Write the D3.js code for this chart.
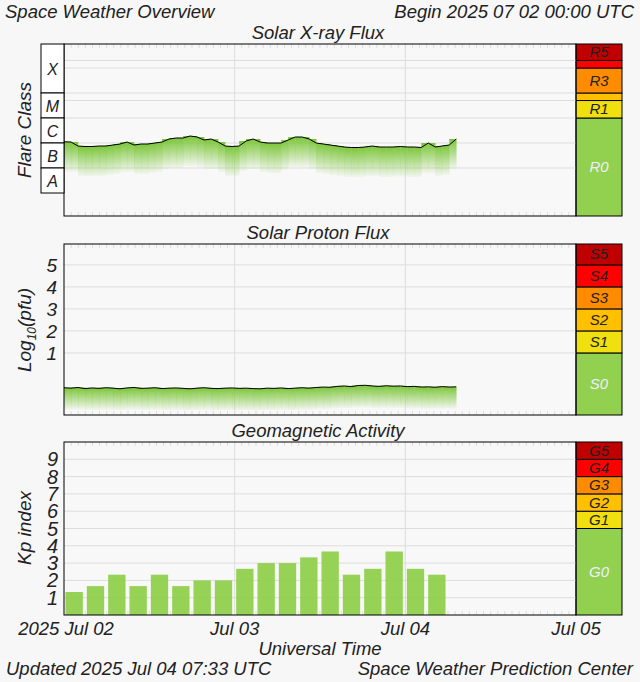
<!DOCTYPE html>
<html><head><meta charset="utf-8">
<script src="https://cdn.jsdelivr.net/npm/d3@7"></script>
<style>body{margin:0;background:#f7f7f7}svg{font-family:"Liberation Sans",Arial,sans-serif;font-style:italic}</style>
</head><body><svg id="c" width="640" height="682"></svg>
<script>
// ---- data ----
const startTime = new Date(Date.UTC(2025,6,2,0,0));
const endTime = new Date(Date.UTC(2025,6,5,0,0));
const dayTicks = ["2025 Jul 02","Jul 03","Jul 04","Jul 05"];
// hourly log10 X-ray flux (W/m^2)
const xrayLog = [-5.95,-5.96,-6.12,-6.14,-6.14,-6.12,-6.12,-6.08,-6.04,-5.96,-6.08,-6.04,-6.04,-6.00,-5.96,-5.84,-5.80,-5.80,-5.72,-5.76,-5.88,-5.84,-5.96,-6.12,-6.14,-6.12,-5.92,-5.84,-5.96,-6.00,-6.00,-6.00,-5.88,-5.76,-5.76,-5.84,-6.00,-6.04,-6.08,-6.12,-6.16,-6.18,-6.18,-6.16,-6.12,-6.16,-6.16,-6.16,-6.14,-6.16,-6.16,-6.18,-6.00,-6.16,-6.12,-6.08,-5.84];
// hourly log10 proton flux (pfu)
const protonLog = [-0.58,-0.60,-0.57,-0.62,-0.59,-0.61,-0.58,-0.60,-0.63,-0.59,-0.57,-0.61,-0.60,-0.58,-0.62,-0.60,-0.59,-0.61,-0.63,-0.60,-0.58,-0.61,-0.62,-0.60,-0.59,-0.61,-0.60,-0.62,-0.63,-0.60,-0.61,-0.59,-0.62,-0.60,-0.58,-0.60,-0.57,-0.55,-0.56,-0.52,-0.50,-0.53,-0.48,-0.47,-0.50,-0.52,-0.49,-0.51,-0.50,-0.53,-0.52,-0.55,-0.54,-0.56,-0.53,-0.55,-0.54];
// 3-hourly Kp
const kpValues = [1.33,1.67,2.33,1.67,2.33,1.67,2,2,2.67,3,3,3.33,3.67,2.33,2.67,3.67,2.67,2.33];
const flareClasses = [["X",-4,-2.04],["M",-5,-4],["C",-6,-5],["B",-7,-6],["A",-8,-7]];
const rScale = [["R0",-8.92,-5,"#92d050"],["R1",-5,-4.301,"#f0e010"],["",-4.301,-4,"#ffc000"],["R3",-4,-3,"#ff8c00"],["",-3,-2.699,"#ff0000"],["R5",-2.699,-2.04,"#c00000"]];
const sScale = [["S0",-1.82,1,"#92d050"],["S1",1,2,"#f0e010"],["S2",2,3,"#ffc000"],["S3",3,4,"#ff8c00"],["S4",4,5,"#ff0000"],["S5",5,5.95,"#c00000"]];
const gScale = [["G0",0,5,"#92d050"],["G1",5,6,"#f0e010"],["G2",6,7,"#ffc000"],["G3",7,8,"#ff8c00"],["G4",8,9,"#ff0000"],["G5",9,10,"#c00000"]];
const protonTicks = [1,2,3,4,5];
const kpTicks = [1,2,3,4,5,6,7,8,9];

// ---- drawing ----
const svg = d3.select("#c");
const X0=64, X1=576, BX1=622;
const x = d3.scaleTime().domain([startTime,endTime]).range([X0,X1]);
const hour = i => new Date(startTime.getTime()+i*3600e3*0.985);
const hr = i => new Date(startTime.getTime()+i*3600e3);
const txt=(t,xx,yy,a,s)=>svg.append("text").attr("x",xx).attr("y",yy).attr("text-anchor",a||"start").attr("font-size",s||18).attr("fill","#222").text(t);

const defs=svg.append("defs");
const gr=defs.append("linearGradient").attr("id","fade").attr("x1",0).attr("x2",0).attr("y1",0).attr("y2",1);
gr.append("stop").attr("offset",0).attr("stop-color","#7cc63a").attr("stop-opacity",1);
gr.append("stop").attr("offset",1).attr("stop-color","#7cc63a").attr("stop-opacity",0.05);

function panel(top,bot,domain,title,bands){
  const y=d3.scaleLinear().domain(domain).range([bot,top]);
  svg.append("rect").attr("x",X0).attr("y",top).attr("width",X1-X0).attr("height",bot-top).attr("fill","#f8f8f8");
  txt(title,318,top-5,"middle",18.5);
  [1,2].forEach(d=>{const xx=x(new Date(startTime.getTime()+d*86400e3));
    svg.append("line").attr("x1",xx).attr("x2",xx).attr("y1",top).attr("y2",bot).attr("stroke","#ddd");});
  d3.range(1,72).forEach(i=>{const xx=x(hr(i));
    svg.append("line").attr("x1",xx).attr("x2",xx).attr("y1",top).attr("y2",top+4).attr("stroke","#ddd");
    svg.append("line").attr("x1",xx).attr("x2",xx).attr("y1",bot).attr("y2",bot-4).attr("stroke","#ddd");});
  bands.forEach(b=>{
    svg.append("rect").attr("x",X1).attr("y",y(b[2])).attr("width",BX1-X1).attr("height",y(b[1])-y(b[2])).attr("fill",b[3]).attr("stroke","#000").attr("stroke-width",1);
    if(b[0]) svg.append("text").attr("x",(X1+BX1)/2).attr("y",(y(b[1])+y(b[2]))/2+5).attr("text-anchor","middle").attr("font-size",15)
      .attr("fill",b[0].endsWith("0")?"#eef":"#222").text(b[0]);
  });
  return y;
}
function hgrid(y,vals){vals.forEach(v=>svg.append("line").attr("x1",X0).attr("x2",X1).attr("y1",y(v)).attr("y2",y(v)).attr("stroke","#ddd"));}
function frame(top,bot){svg.append("rect").attr("x",X0).attr("y",top).attr("width",X1-X0).attr("height",bot-top).attr("fill","none").attr("stroke","#000");}
function series(y,vals,depth){
  vals.forEach((v,i)=>{ if(i==vals.length-1) return;
    const xa=x(hour(i)), xb=x(hour(i+1));
    svg.append("rect").attr("x",xa).attr("y",Math.min(y(v),y(vals[i+1]))).attr("width",xb-xa+0.3).attr("height",depth).attr("fill","url(#fade)");
  });
  const line=d3.line().x((d,i)=>x(hour(i))).y(d=>y(d));
  svg.append("path").datum(vals).attr("d",line).attr("fill","none").attr("stroke","#000").attr("stroke-width",1);
}

// Panel 1: X-ray
const y1=panel(44,216,[-8.92,-2.04],"Solar X-ray Flux",rScale);
hgrid(y1,[-7,-6,-5,-4.301,-4,-3,-2.699]);
series(y1,xrayLog,30);
frame(44,216);
flareClasses.forEach(c=>{
  svg.append("rect").attr("x",41).attr("y",y1(c[2])).attr("width",X0-41).attr("height",y1(c[1])-y1(c[2])).attr("fill","#fff").attr("stroke","#000");
  txt(c[0],52.5,(y1(c[1])+y1(c[2]))/2+6,"middle",16);
});
svg.append("text").attr("transform","translate(31,130) rotate(-90)").attr("text-anchor","middle").attr("font-size",19).attr("fill","#222").text("Flare Class");

// Panel 2: Protons
const y2=panel(244,415,[-1.82,5.95],"Solar Proton Flux",sScale);
hgrid(y2,protonTicks);
series(y2,protonLog,22);
frame(244,415);
protonTicks.forEach(t=>txt(t,57,y2(t)+7,"end",19));
const pl=svg.append("text").attr("transform","translate(31,330) rotate(-90)").attr("text-anchor","middle").attr("font-size",19).attr("fill","#222");
pl.append("tspan").text("Log");pl.append("tspan").attr("font-size",12).attr("dy",5).text("10");pl.append("tspan").attr("dy",-5).text("(pfu)");

// Panel 3: Kp
const y3=panel(442,615,[0,10],"Geomagnetic Activity",gScale);
hgrid(y3,kpTicks);
const bw=x(hr(3))-x(hr(0));
svg.selectAll(".kp").data(kpValues).enter().append("rect")
  .attr("x",(d,i)=>x(hr(i*3))+1.5).attr("width",bw-4).attr("y",d=>y3(d)).attr("height",d=>y3(0)-y3(d))
  .attr("fill","#8cce48").attr("fill-opacity",0.92);
frame(442,615);
kpTicks.forEach(t=>txt(t,58,y3(t)+7,"end",20));
svg.append("text").attr("transform","translate(31,528) rotate(-90)").attr("text-anchor","middle").attr("font-size",19).attr("fill","#222").text("Kp index");

// x labels
dayTicks.forEach((t,i)=>{const xx=x(new Date(startTime.getTime()+i*86400e3));
  txt(t,i==0?xx+2:xx,635,"middle",18.5);});
txt("Universal Time",320,655,"middle",18.5);
txt("Space Weather Overview",5,18,"start",18.5);
txt("Begin 2025 07 02 00:00 UTC",634,18,"end",18.5);
txt("Updated 2025 Jul 04 07:33 UTC",6,675,"start",18.5);
txt("Space Weather Prediction Center",633,675,"end",18.5);
</script></body></html>
